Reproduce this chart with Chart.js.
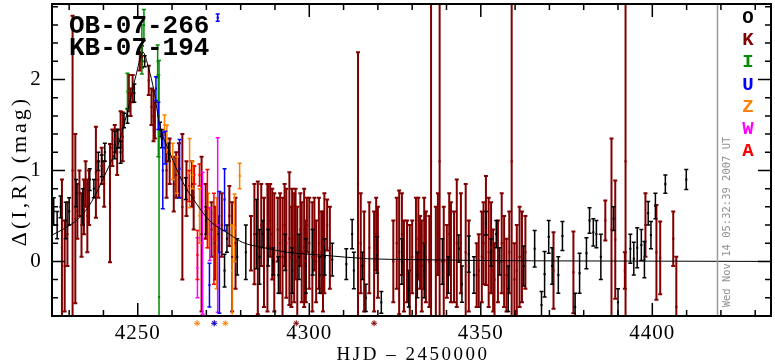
<!DOCTYPE html>
<html>
<head>
<meta charset="utf-8">
<script src="https://cdn.jsdelivr.net/npm/chart.js@4"></script>
<style>
  body { margin: 0; background: #fff; }
  canvas { display: block; }
</style>
</head>
<body>
<canvas id="c" width="775" height="362"></canvas>
<script>
// observatory O (black)
const oDays = [4225.5, 4226.5, 4227.5, 4229.0, 4230.0, 4232.0, 4234.0, 4236.0, 4237.2, 4238.5, 4239.5, 4240.4,
  4243.3, 4244.2, 4245.0, 4246.0, 4247.0, 4249.0, 4251.0, 4252.0, 4256.5, 4257.0, 4259.0, 4264.0, 4270.0,
  4273.5, 4275.3, 4276.0, 4279.0, 4281.5, 4284.6, 4285.5, 4286.5, 4288.0, 4289.5, 4291.0, 4293.0, 4295.0,
  4297.0, 4299.0, 4301.0, 4303.0, 4304.5, 4306.7, 4310.8, 4312.5, 4313.0, 4315.5, 4316.5, 4319.8, 4321.0,
  4327.0, 4329.0, 4331.5, 4333.5, 4338.8, 4340.5, 4343.6, 4344.5, 4346.5, 4348.0, 4351.5, 4353.0, 4354.5,
  4355.5, 4358.0, 4362.5, 4365.7, 4367.7, 4368.6, 4369.8, 4370.8, 4372.6, 4373.8, 4377.5, 4378.8, 4380.8,
  4381.7, 4382.8, 4383.7, 4385.0, 4388.7, 4390.0, 4393.6, 4394.6, 4395.6, 4396.8, 4397.7, 4398.8, 4399.6,
  4400.9, 4403.8, 4409.9];
const oMags = [0.55, 0.4, 0.6, 0.45, 0.55, 0.75, 0.6, 0.9, 0.8, 1.1, 1.05, 1.2,
  1.28, 1.35, 1.2, 1.55, 1.6, 1.85, 2.25, 2.2, 1.45, 1.35, 1.2, 0.8, 0.45,
  0.3, -0.1, 0.25, 0.05, 0.1, 0.3, 0.05, 0.3, 0.15, 0.0, -0.15, 0.1, -0.1,
  0.05, -0.05, 0.1, -0.15, 0.05, 0.02, -0.03, 0.3, -0.1, -0.05, -0.4, 0.07, -0.45,
  0.0, -0.3, -0.15, -0.1, 0.0, -0.15, 0.14, -0.25, 0.08, -0.15, 0.42, 0.1, 0.3,
  0.0, -0.3, -0.05, 0.14, -0.48, -0.14, 0.27, -0.05, -0.15, 0.28, -0.5, -0.13, 0.09,
  0.45, 0.32, 0.3, 0.05, 0.47, -0.45, 0.14, 0.03, 0.15, 0.18, 0.02, 0.53, 0.29,
  0.61, 0.85, 0.9];
const oErrs = [0.15, 0.15, 0.12, 0.2, 0.15, 0.15, 0.2, 0.12, 0.1, 0.1, 0.12, 0.1,
  0.15, 0.1, 0.12, 0.08, 0.08, 0.1, 0.05, 0.06, 0.08, 0.1, 0.1, 0.12, 0.15,
  0.2, 0.18, 0.15, 0.2, 0.3, 0.38, 0.3, 0.15, 0.2, 0.15, 0.2, 0.2, 0.25,
  0.25, 0.3, 0.25, 0.2, 0.2, 0.18, 0.17, 0.16, 0.2, 0.15, 0.15, 0.2, 0.12,
  0.25, 0.2, 0.25, 0.3, 0.25, 0.2, 0.15, 0.2, 0.2, 0.2, 0.13, 0.15, 0.15,
  0.15, 0.25, 0.22, 0.2, 0.15, 0.25, 0.18, 0.2, 0.2, 0.16, 0.15, 0.22, 0.17,
  0.14, 0.15, 0.15, 0.25, 0.13, 0.15, 0.16, 0.18, 0.22, 0.17, 0.2, 0.13, 0.15,
  0.14, 0.1, 0.11];

// observatory K (dark red)
const kDays = [4227.9, 4228.7, 4229.5, 4231.0, 4231.8, 4232.4, 4233.0, 4233.6, 4234.3, 4234.8, 4235.3, 4235.8,
  4237.8, 4238.5, 4239.5, 4240.2, 4241.9, 4242.6, 4243.3, 4244.0, 4245.0, 4245.6, 4247.4, 4247.9, 4248.5,
  4250.6, 4251.2, 4253.2, 4254.6, 4254.0, 4255.0, 4258.4, 4259.3, 4260.5, 4261.2, 4262.0, 4263.0, 4264.2,
  4265.8, 4266.3, 4268.6, 4269.8, 4271.5, 4272.5, 4274.5, 4276.7, 4277.5, 4278.5, 4283.0, 4285.0, 4286.0,
  4287.8, 4288.6, 4289.8, 4290.8, 4292.2, 4293.3, 4294.2, 4295.0, 4295.6, 4296.5, 4297.4, 4298.5, 4299.3,
  4300.0, 4300.9, 4302.0, 4303.5, 4304.4, 4305.2, 4314.2, 4315.0, 4316.0, 4318.9, 4320.0, 4324.5, 4326.2,
  4327.6, 4328.5, 4330.0, 4331.1, 4332.3, 4332.8, 4334.0, 4335.5, 4336.9, 4338.0, 4339.2, 4340.1, 4341.3,
  4343.0, 4345.6, 4348.8, 4349.4, 4350.3, 4351.5, 4352.3, 4354.0, 4355.0, 4356.1, 4357.5, 4359.0, 4359.8,
  4361.3, 4362.0, 4371.2, 4377.0, 4386.3, 4388.1, 4389.2, 4392.2, 4392.0, 4398.0, 4401.2, 4402.3, 4406.1,
  4407.0, 4284.0, 4286.8, 4288.0, 4289.2, 4291.5, 4292.8, 4294.8, 4296.0, 4297.8, 4299.0, 4301.5, 4302.8,
  4304.0, 4306.0, 4317.5, 4319.5, 4325.5, 4327.0, 4329.3, 4331.8, 4333.5, 4335.0, 4337.5, 4340.8, 4342.2,
  4344.2, 4346.5, 4350.8, 4353.0, 4353.6, 4356.8, 4358.3, 4360.5, 4363.0];
const kMags = [0.15, -0.05, 0.3, 1.0, 0.47, 0.55, 0.75, 0.4, 0.6, 0.85, 0.5, 0.7,
  0.98, 0.9, 1.05, 0.85, 0.64, 1.25, 1.35, 1.2, 1.45, 1.37, 1.85, 1.75, 1.9,
  2.2, 2.25, 1.99, 1.6, 1.7, 1.55, 1.0, 1.1, 0.85, 0.95, 1.0, 0.6, 0.8,
  0.85, 0.7, 0.3, 0.55, 0.35, 0.2, 0.4, 0.5, 0.05, 0.2, 0.2, 0.15, 0.4,
  0.15, 0.45, 0.1, 0.35, 0.05, 0.2, 0.25, 0.45, 0.15, 0.0, 0.35, 0.15, 0.4,
  0.2, 0.05, 0.0, 0.1, 0.2, 0.4, 0.85, 0.2, 0.0, 0.0, 0.1, 0.0, 0.1,
  -0.05, 0.0, 0.05, 0.05, 0.1, -0.05, 0.05, 1.1, 0.0, 1.1, 0.0, 0.0, 0.1,
  0.2, 0.1, -0.15, -0.1, 0.05, 0.34, 0.1, -0.2, 0.0, 0.2, -0.15, 1.1, -0.2,
  0.05, 0.05, -0.1, -0.12, 0.45, 0.35, 0.24, 1.1, -0.1, 0.4, 0.1, 0.04, 0.25,
  -0.5, 0.3, 0.1, 0.5, 0.3, 0.2, 0.4, 0.05, 0.3, 0.1, 0.0, 0.3, 0.2,
  0.0, 0.15, 0.15, 0.3, 0.2, 0.3, -0.1, 0.25, 0.2, 0.0, 0.3, 0.3, 0.05,
  0.2, -0.05, 0.2, 0.15, -0.1, 0.0, 0.1, -0.1, 0.1];
const kErrs = [0.75, 0.5, 0.35, 1.7, 0.93, 0.3, 0.25, 0.35, 0.3, 0.25, 0.4, 0.3,
  0.5, 0.2, 0.2, 0.25, 0.65, 0.2, 0.15, 0.25, 0.2, 0.27, 0.2, 0.15, 0.15,
  0.1, 0.12, 0.16, 0.28, 0.2, 0.2, 0.3, 0.25, 0.3, 0.25, 0.3, 0.8, 0.3,
  0.25, 0.35, 0.85, 0.3, 0.3, 0.4, 0.35, 0.33, 0.6, 0.5, 0.3, 0.73, 0.45,
  0.7, 0.4, 0.65, 0.35, 0.65, 0.6, 0.73, 0.35, 0.6, 0.6, 0.4, 0.65, 0.3,
  0.5, 0.6, 0.45, 0.45, 0.55, 0.28, 1.45, 0.55, 0.55, 0.55, 0.5, 0.45, 0.68,
  0.5, 0.45, 0.4, 0.65, 0.4, 0.5, 0.5, 3.0, 0.6, 3.0, 0.6, 0.4, 0.55,
  0.7, 0.75, 0.35, 0.4, 0.5, 0.6, 0.6, 0.4, 0.45, 0.55, 0.4, 3.0, 0.4,
  0.55, 0.5, 0.42, 0.45, 0.22, 1.0, 0.65, 3.0, 0.2, 0.35, 0.52, 0.4, 0.3,
  0.55, 0.55, 0.6, 0.35, 0.5, 0.55, 0.45, 0.55, 0.5, 0.55, 0.45, 0.4, 0.5,
  0.55, 0.45, 0.5, 0.4, 0.5, 0.45, 0.5, 0.45, 0.5, 0.5, 0.45, 0.45, 0.5,
  0.55, 0.5, 0.45, 0.5, 0.45, 0.5, 0.45, 0.5, 0.4];

// observatory I (green)
const iDays = [4247.0, 4251.2, 4251.8, 4255.8, 4256.0, 4256.2];
const iMags = [1.87, 2.33, 2.6, 2.2, 1.6, -0.39];
const iErrs = [0.2, 0.27, 0.17, 0.18, 0.45, 2.6];

// observatory U (blue)
const uDays = [4255.3, 4256.0, 4257.3, 4258.0, 4262.2, 4270.9, 4273.8, 4275.3, 4273.3];
const uMags = [1.9, 1.6, 1.0, 1.25, 1.02, -0.26, 0.1, 0.68, 2.68];
const uErrs = [0.13, 0.15, 0.42, 0.18, 0.32, 0.24, 0.67, 0.34, 0.04];

// observatory Z (orange)
const zDays = [4257.8, 4258.5, 4260.2, 4261.5, 4265.1, 4266.0, 4268.0, 4270.5, 4273.0, 4277.5, 4278.2, 4279.7];
const zMags = [1.5, 1.35, 1.1, 0.95, 0.97, 0.95, 0.5, 0.45, 0.2, -0.1, 0.37, 0.94];
const zErrs = [0.11, 0.15, 0.2, 0.2, 0.38, 0.15, 0.3, 0.3, 0.5, 0.5, 0.37, 0.14];

// observatory W (magenta)
const wDays = [4267.4, 4268.9, 4271.0, 4273.3];
const wMags = [-0.07, 0.2, 0.3, 0.4];
const wErrs = [0.33, 0.78, 0.29, 0.96];

// observatory A (red)
const aDays = [4265.0, 4266.5, 4267.4, 4268.0, 4270.3, 4272.2];
const aMags = [0.83, 0.95, 0.07, 0.95, 0.58, 0.25];
const aErrs = [0.17, 0.1, 0.27, 0.12, 0.43, 0.5];

// points below the plotted range (drawn as stars under the axis)
const lowDays = [4267.3, 4272.3, 4275.5, 4272.3, 4296.2, 4318.9];
const lowColors = ["#ff8000", "#ff8000", "#ff8000", "#0000ff", "#800000", "#800000"];
const lowMag = -0.68;

// model light curve
const modelDays = [4225, 4229, 4233, 4236.6, 4240.4, 4244.5, 4247.4, 4249.7, 4251.5, 4253.2, 4254.7, 4256.4,
  4259.3, 4263, 4267.2, 4270.9, 4276.7, 4280.5, 4286.9, 4293.6, 4303.5, 4316.9, 4330, 4349.4, 4380, 4434.6];
const modelMags = [0.29, 0.37, 0.48, 0.66, 0.95, 1.31, 1.71, 2.08, 2.3, 2.12, 1.88, 1.5,
  1.2, 0.88, 0.63, 0.45, 0.3, 0.21, 0.15, 0.1, 0.07, 0.03, 0.02, 0.01, 0.005, 0];

const xMin = 4225, xMax = 4434.6;
const yMin = -0.6, yMax = 2.83;
const xLabels = [4250, 4300, 4350, 4400];
const yLabels = [0, 1, 2];
const plotDate = 4419;
const dateText = "Wed Nov 14 05:32:39 2007 UT";
const legendNames = ["O", "K", "I", "U", "Z", "W", "A"];
const legendColors = ["#000000", "#800000", "#008c00", "#0000ff", "#ff8000", "#ff00ff", "#ff0000"];

function series(days, mags, errs, color, width) {
  return {
    data: days.map((d, i) => ({ x: d, y: mags[i] })),
    errs: errs,
    errWidth: width,
    backgroundColor: color,
    borderColor: color,
    pointStyle: "rect",
    pointRadius: 1.5,
    borderWidth: 0
  };
}

// draws the vertical error bars with small caps
const errorBars = {
  id: "errorBars",
  beforeDatasetsDraw(chart) {
    const { ctx, chartArea: a, scales: { x, y } } = chart;
    ctx.save();
    ctx.beginPath();
    ctx.rect(a.left, a.top, a.width, a.height);
    ctx.clip();
    chart.data.datasets.forEach((ds) => {
      if (!ds.errs) return;
      ctx.strokeStyle = ds.borderColor;
      ctx.lineWidth = ds.errWidth;
      ds.data.forEach((p, i) => {
        const px = x.getPixelForValue(p.x);
        const top = y.getPixelForValue(p.y + ds.errs[i]);
        const bot = y.getPixelForValue(p.y - ds.errs[i]);
        ctx.beginPath();
        ctx.moveTo(px, top);
        ctx.lineTo(px, bot);
        ctx.moveTo(px - 2, top);
        ctx.lineTo(px + 2, top);
        ctx.moveTo(px - 2, bot);
        ctx.lineTo(px + 2, bot);
        ctx.stroke();
      });
    });
    ctx.restore();
  }
};

// frame, inward ticks, labels and texts
const frame = {
  id: "frame",
  afterDraw(chart) {
    const { ctx, chartArea: a, scales: { x, y } } = chart;
    ctx.save();

    // date line
    const gx = x.getPixelForValue(plotDate);
    ctx.strokeStyle = "#999999";
    ctx.lineWidth = 1.5;
    ctx.beginPath();
    ctx.moveTo(gx, a.top);
    ctx.lineTo(gx, a.bottom);
    ctx.stroke();

    ctx.strokeStyle = "#000";
    ctx.lineWidth = 2;
    ctx.strokeRect(a.left, a.top, a.width, a.height);

    ctx.lineWidth = 1.5;
    ctx.beginPath();
    for (let d = 4230; d < xMax; d += 10) {
      const px = x.getPixelForValue(d);
      const len = d % 50 === 0 ? 13 : 6;
      ctx.moveTo(px, a.bottom);
      ctx.lineTo(px, a.bottom - len);
      ctx.moveTo(px, a.top);
      ctx.lineTo(px, a.top + len);
    }
    for (let m = -0.4; m < yMax; m += 0.2) {
      const v = Math.round(m * 10) / 10;
      const py = y.getPixelForValue(v);
      const len = Math.abs(v - Math.round(v)) < 0.01 ? 13 : 6;
      ctx.moveTo(a.left, py);
      ctx.lineTo(a.left + len, py);
      ctx.moveTo(a.right, py);
      ctx.lineTo(a.right - len, py);
    }
    ctx.stroke();

    // out-of-range points as asterisks below the axis
    ctx.lineWidth = 1;
    lowDays.forEach((d, i) => {
      const px = x.getPixelForValue(d);
      const py = y.getPixelForValue(lowMag);
      ctx.strokeStyle = lowColors[i];
      ctx.beginPath();
      for (let k = 0; k < 4; k++) {
        const ang = k * Math.PI / 4;
        ctx.moveTo(px - 3 * Math.cos(ang), py - 3 * Math.sin(ang));
        ctx.lineTo(px + 3 * Math.cos(ang), py + 3 * Math.sin(ang));
      }
      ctx.stroke();
    });

    ctx.fillStyle = "#000";
    ctx.font = '21px "Liberation Serif"';
    ctx.textAlign = "center";
    ctx.textBaseline = "alphabetic";
    ctx.letterSpacing = "1px";
    xLabels.forEach((v) => ctx.fillText(String(v), x.getPixelForValue(v), 339));
    ctx.textBaseline = "middle";
    yLabels.forEach((v) => ctx.fillText(String(v), 36, y.getPixelForValue(v)));

    ctx.textBaseline = "alphabetic";
    ctx.font = '19px "Liberation Serif"';
    ctx.letterSpacing = "2.5px";
    ctx.fillText("HJD \u2013 2450000", 413, 360);

    ctx.save();
    ctx.translate(20, 171);
    ctx.rotate(-Math.PI / 2);
    ctx.font = '22px "Liberation Serif"';
    ctx.letterSpacing = "3px";
    ctx.textBaseline = "middle";
    ctx.fillText("\u0394(I,R) (mag)", 0, 0);
    ctx.restore();

    ctx.letterSpacing = "0px";
    ctx.textAlign = "left";
    ctx.font = 'bold 26px "Liberation Mono"';
    ctx.fillText("OB-07-266", 69, 33);
    ctx.fillText("KB-07-194", 69, 55);

    ctx.textAlign = "center";
    ctx.font = 'bold 19px "Liberation Mono"';
    legendNames.forEach((n, i) => {
      ctx.fillStyle = legendColors[i];
      ctx.fillText(n, 748, 23 + i * 22.2);
    });

    ctx.save();
    ctx.translate(727, 222);
    ctx.rotate(-Math.PI / 2);
    ctx.fillStyle = "#909090";
    ctx.font = '10.5px "DejaVu Sans Mono"';
    ctx.textBaseline = "middle";
    ctx.fillText(dateText, 0, 0);
    ctx.restore();

    ctx.restore();
  }
};

const datasets = [
  {
    type: "line",
    data: modelDays.map((d, i) => ({ x: d, y: modelMags[i] })),
    borderColor: "#000",
    borderWidth: 1,
    pointRadius: 0,
    cubicInterpolationMode: "monotone",
    showLine: true
  },
  series(kDays, kMags, kErrs, "#800000", 2),
  series(oDays, oMags, oErrs, "#000000", 1.5),
  series(iDays, iMags, iErrs, "#008c00", 1.5),
  series(zDays, zMags, zErrs, "#ff8000", 1.5),
  series(wDays, wMags, wErrs, "#ff00ff", 1.5),
  series(aDays, aMags, aErrs, "#ff0000", 1.5),
  series(uDays, uMags, uErrs, "#0000ff", 1.5)
];

new Chart(document.getElementById("c"), {
  type: "scatter",
  data: { datasets: datasets },
  options: {
    responsive: false,
    animation: false,
    layout: { padding: { left: 52, right: 2, top: 1, bottom: 46 } },
    plugins: { legend: { display: false }, tooltip: { enabled: false } },
    scales: {
      x: { type: "linear", min: xMin, max: xMax, display: false },
      y: { type: "linear", min: yMin, max: yMax, display: false }
    }
  },
  plugins: [errorBars, frame]
});
</script>
</body>
</html>
